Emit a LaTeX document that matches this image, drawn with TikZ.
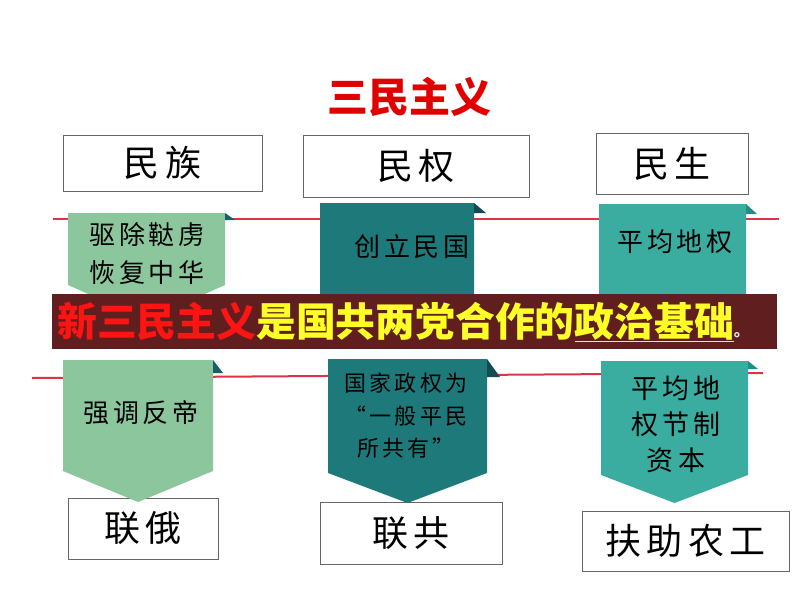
\documentclass[tikz,border=0pt]{standalone}
\usepackage{fontspec}
\newfontfamily\cjk{Noto Sans CJK SC}
\newfontfamily\cjkwide[LetterSpace=15]{Noto Sans CJK SC}
\usetikzlibrary{}

\definecolor{ribbonred}{RGB}{218,52,72}
\definecolor{palegreen}{RGB}{140,198,156}
\definecolor{deepteal}{RGB}{30,122,122}
\definecolor{seateal}{RGB}{58,172,160}
\definecolor{foldteal}{RGB}{24,96,104}
\definecolor{folddeep}{RGB}{20,74,84}
\definecolor{foldsea}{RGB}{36,140,132}
\definecolor{stripbrown}{RGB}{96,30,30}
\definecolor{titlered}{RGB}{225,0,0}
\definecolor{mottored}{RGB}{255,20,20}
\definecolor{mottoyellow}{RGB}{255,255,40}

\tikzset{
  labelbox/.style={draw=black!60, fill=white, line width=0.8pt, inner sep=0pt,
    font=\cjkwide\fontsize{36}{36}\selectfont},
  bannertext/.style={align=center, inner sep=0pt,
    font=\cjkwide\fontsize{26}{38}\selectfont},
  redline/.style={ribbonred, line width=2pt},
}

\begin{document}
\begin{tikzpicture}[x=1pt,y=-1pt]
    \useasboundingbox (0,0) rectangle (794,596);

    % Title
    \node[font=\cjk\bfseries\fontsize{41}{41}\selectfont, text=titlered, inner sep=0pt] (title) at (409,97) {三民主义};

    % Red lines
    \draw[redline] (53,219) -- (779,219);
    \draw[redline] (32,378) -- (763,373);

    % Top boxes
    \node[labelbox, minimum width=199, minimum height=56] (minzu) at (162.5,163) {民族};
    \node[labelbox, minimum width=226, minimum height=62] (minquan) at (416,166) {民权};
    \node[labelbox, minimum width=152, minimum height=61] (minsheng) at (672,163.5) {民生};

    % Bottom boxes
    \node[labelbox, minimum width=150, minimum height=61] (lianE) at (143,528.5) {联俄};
    \node[labelbox, minimum width=182, minimum height=62] (lianGong) at (411,533) {联共};
    \node[labelbox, minimum width=207, minimum height=60] (fuzhu) at (685.5,541) {扶助农工};

    % Upper banners
    \fill[palegreen] (68,213) -- (225,213) -- (225,285) -- (146.5,320) -- (68,285) -- cycle;
    \fill[foldteal] (225,213) -- (225,220) -- (235,220) -- cycle;
    \fill[deepteal] (320,203) -- (474,203) -- (474,300) -- (397,330) -- (320,300) -- cycle;
    \fill[folddeep] (474,203) -- (474,213) -- (486,213) -- cycle;
    \fill[seateal] (599,204) -- (746,204) -- (746,300) -- (672.5,330) -- (599,300) -- cycle;
    \fill[foldsea] (746,204) -- (746,214) -- (757,214) -- cycle;

    % Lower banners
    \fill[palegreen] (63,360) -- (213,360) -- (213,471) -- (138,502) -- (63,471) -- cycle;
    \fill[foldteal] (213,360) -- (213,373) -- (223,373) -- cycle;
    \fill[deepteal] (328,359) -- (487,359) -- (487,473) -- (407.5,503) -- (328,473) -- cycle;
    \fill[folddeep] (487,359) -- (487,377) -- (500,377) -- cycle;
    \fill[seateal] (601,361) -- (748,361) -- (748,475) -- (674.5,503) -- (601,475) -- cycle;
    \fill[foldsea] (748,361) -- (748,369) -- (758,369) -- cycle;

    % Banner texts
    \node[bannertext] (quchu) at (147,254) {驱除鞑虏\\恢复中华};
    \node[bannertext] (chuangli) at (412,247) {创立民国};
    \node[bannertext] (pingjun) at (675,242) {平均地权};
    \node[bannertext] (qiangdiao) at (141,413) {强调反帝};
    \node[bannertext, font=\cjkwide\fontsize{22}{32.5}\selectfont] (guojia) at (406,416) {国家政权为\\“一般平民\\所共有”};
    \node[bannertext, font=\cjkwide\fontsize{27}{36}\selectfont] (jiezhi) at (676,424) {平均地\\权节制\\资本};

    % Strip
    \node[fill=stripbrown, minimum width=725, minimum height=55, inner sep=0pt] (strip) at (414.5,321.5) {};
    \node[anchor=west, inner sep=0pt, font=\cjk\bfseries\fontsize{39.8}{40}\selectfont] (motto) at (57,322)
      {\textcolor{mottored}{新三民主义}\textcolor{mottoyellow}{是国共两党合作的\underline{政治基础}}{\fontsize{16}{16}\selectfont\textcolor{white!85!gray}{。}}};

\end{tikzpicture}
\end{document}
